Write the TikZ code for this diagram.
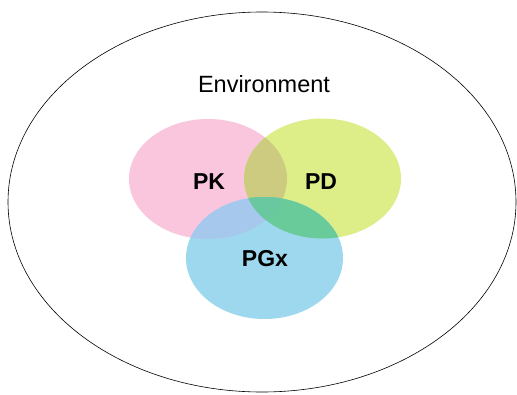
\documentclass[tikz,border=0pt]{standalone}
\usepackage{fontspec}
\setmainfont{Liberation Sans}
\definecolor{pkc}{HTML}{F9C6DE}
\definecolor{pdc}{HTML}{DDEE88}
\definecolor{pgc}{HTML}{9ED8EE}
\definecolor{pkpd}{HTML}{CDCB80}
\definecolor{pdpg}{HTML}{6ACB9A}
\definecolor{pkpg}{HTML}{A6C8EC}
\definecolor{allc}{HTML}{6AC8A0}
\tikzset{
  envtext/.style={font=\fontsize{23.5}{27}\selectfont, anchor=base, inner sep=0pt},
  settext/.style={font=\fontsize{23}{27}\selectfont\bfseries, anchor=base, inner sep=0pt},
}
\begin{document}
\begin{tikzpicture}[x=1pt,y=-1pt]
\useasboundingbox (0,0) rectangle (517,394);
\fill[white] (0,0) rectangle (517,394);
\draw[line width=0.6pt] (262,202) ellipse [x radius=254, y radius=190];
% circles
\fill[pkc] (208,179) ellipse [x radius=79, y radius=60];
\fill[pdc] (322.5,178.5) ellipse [x radius=78.5, y radius=60];
\fill[pgc] (264.5,258) ellipse [x radius=78.5, y radius=61];
% pairwise overlaps
\begin{scope}
\clip (208,179) ellipse [x radius=79, y radius=60];
\fill[pkpd] (322.5,178.5) ellipse [x radius=78.5, y radius=60];
\fill[pkpg] (264.5,258) ellipse [x radius=78.5, y radius=61];
\end{scope}
\begin{scope}
\clip (322.5,178.5) ellipse [x radius=78.5, y radius=60];
\fill[pdpg] (264.5,258) ellipse [x radius=78.5, y radius=61];
\end{scope}
\begin{scope}
\clip (208,179) ellipse [x radius=79, y radius=60];
\clip (322.5,178.5) ellipse [x radius=78.5, y radius=60];
\fill[allc] (264.5,258) ellipse [x radius=78.5, y radius=61];
\end{scope}
\node[envtext] (env) at (264,92.3) {Environment};
\node[settext] (pk) at (209,189.3) {PK};
\node[settext] (pd) at (321,189.3) {PD};
\node[settext] (pgx) at (265,266.7) {PGx};
\end{tikzpicture}
\end{document}
